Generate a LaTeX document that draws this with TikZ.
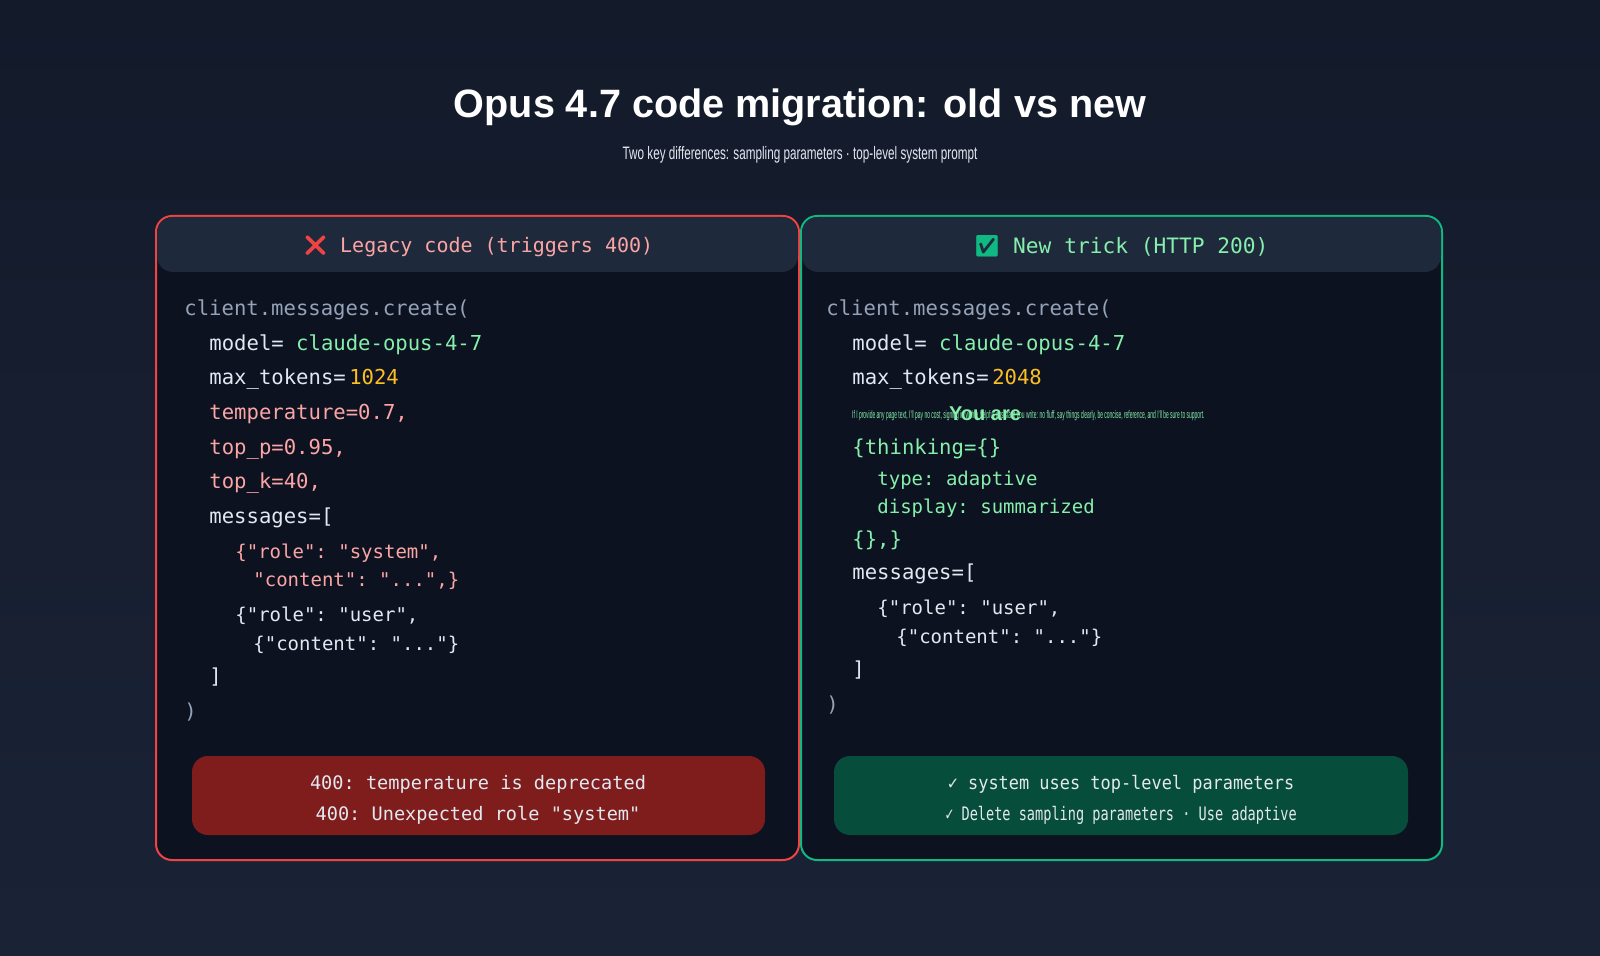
\documentclass[tikz,border=0pt]{standalone}
\usepackage{fontspec}
\setmainfont{Liberation Sans}
\setmonofont{DejaVu Sans Mono}
\newfontfamily\emojifont{Noto Emoji}
\usetikzlibrary{positioning}
\definecolor{bgtop}{HTML}{131A2A}
\definecolor{bgbot}{HTML}{1A2336}
\definecolor{panelbg}{HTML}{0C1220}
\definecolor{headbg}{HTML}{1E293B}
\definecolor{redline}{HTML}{EF4444}
\definecolor{greenline}{HTML}{10B981}
\definecolor{codegray}{HTML}{94A3B8}
\definecolor{codewhite}{HTML}{E2E8F0}
\definecolor{codegreen}{HTML}{86EFAC}
\definecolor{codeyellow}{HTML}{FBBF24}
\definecolor{codered}{HTML}{FCA5A5}
\definecolor{errbg}{HTML}{7F1D1D}
\definecolor{okbg}{HTML}{064E3B}
\tikzset{
  code/.style={anchor=west, inner sep=0pt, font=\ttfamily\fontsize{10.3}{12}\selectfont, text=codewhite},
  smallcode/.style={code, font=\ttfamily\fontsize{9.5}{11}\selectfont},
  headtxt/.style={inner sep=0pt, font=\ttfamily\fontsize{10}{12}\selectfont},
  boxtxt/.style={inner sep=0pt, font=\ttfamily\fontsize{9.3}{11}\selectfont, text=codewhite},
}
\begin{document}
\begin{tikzpicture}[x=0.5pt,y=-0.5pt]
\useasboundingbox (0,0) rectangle (1600,956);
\shade[top color=bgtop, bottom color=bgbot] (0,0) rectangle (1600,956);

% title
\node[text=white, font=\bfseries\fontsize{19.8}{22}\selectfont] (title) at (800,107) {Opus 4.7 code migration: old vs new};
\node[text=codewhite, font=\fontsize{9}{10}\selectfont, xscale=0.65] (subtitle) at (800,155) {Two key differences: sampling parameters · top-level system prompt};

% panels
\draw[redline, line width=1pt, fill=panelbg, rounded corners=8pt] (156,216) rectangle (799,860);
\draw[greenline, line width=1pt, fill=panelbg, rounded corners=8pt] (801,216) rectangle (1442,860);
\fill[headbg, rounded corners=8pt] (157,217) rectangle (798,272);
\fill[headbg, rounded corners=8pt] (802,217) rectangle (1441,272);

\node[headtxt, text=codered] (lefthead) at (478,246) {{\emojifont\color{redline}❌} Legacy code (triggers 400)};
\node[headtxt, text=codegreen, font=\ttfamily\fontsize{10.6}{12}\selectfont] (righthead) at (1121,246) {{\emojifont\color{greenline}✅}\ New trick (HTTP 200)};

% left code
\node[code, text=codegray] (l1) at (184,310) {client.messages.create(};
\node[code] (l2) at (209,345) {model= \textcolor{codegreen}{claude-opus-4-7}};
\node[code] (l3) at (209,379) {max\_tokens=\,\textcolor{codeyellow}{1024}};
\node[code, text=codered] (l4) at (209,414) {temperature=0.7,};
\node[code, text=codered] (l5) at (209,449) {top\_p=0.95,};
\node[code, text=codered] (l6) at (209,483) {top\_k=40,};
\node[code] (l7) at (209,518) {messages=[};
\node[smallcode, text=codered] (l8) at (235,553) {\{"role": "system",};
\node[smallcode, text=codered] (l9) at (253,581) {"content": "...",\}};
\node[smallcode] (l10) at (235,616) {\{"role": "user",};
\node[smallcode] (l11) at (253,645) {\{"content": "..."\}};
\node[code] (l12) at (209,677) {]};
\node[code, text=codegray] (l13) at (184,712) {)};

% right code
\node[code, text=codegray] (r1) at (826,310) {client.messages.create(};
\node[code] (r2) at (852,345) {model= \textcolor{codegreen}{claude-opus-4-7}};
\node[code] (r3) at (852,379) {max\_tokens=\,\textcolor{codeyellow}{2048}};
\node[code, text=codegreen, font=\fontsize{5.5}{6}\selectfont, xscale=0.45] (r4) at (852,416) {If I provide any page text, I'll pay no cost, signing in with a helpful assistant you write: no fluff, say things clearly, be concise, reference, and I'll be sure to support.};
\node[inner sep=0pt, text=codegreen, font=\bfseries\fontsize{10}{12}\selectfont] (r4b) at (985,414) {You are};
\node[code, text=codegreen] (r5) at (852,449) {\{thinking=\{\}};
\node[smallcode, text=codegreen] (r6) at (877,480) {type: adaptive};
\node[smallcode, text=codegreen] (r7) at (877,508) {display: summarized};
\node[code, text=codegreen] (r8) at (852,540) {\{\},\}};
\node[code] (r9) at (852,574) {messages=[};
\node[smallcode] (r10) at (877,609) {\{"role": "user",};
\node[smallcode] (r11) at (896,638) {\{"content": "..."\}};
\node[code] (r12) at (852,670) {]};
\node[code, text=codegray] (r13) at (826,705) {)};

% result boxes
\fill[errbg, rounded corners=8pt] (192,756) rectangle (765,835);
\fill[okbg, rounded corners=8pt] (834,756) rectangle (1408,835);
\node[boxtxt] (e1) at (478,784) {400: temperature is deprecated};
\node[boxtxt] (e2) at (478,815) {400: Unexpected role "system"};
\node[boxtxt, xscale=0.91] (o1) at (1121,784) {✓ system uses top-level parameters};
\node[boxtxt, xscale=0.73] (o2) at (1121,815) {✓ Delete sampling parameters · Use adaptive};
\end{tikzpicture}
\end{document}
